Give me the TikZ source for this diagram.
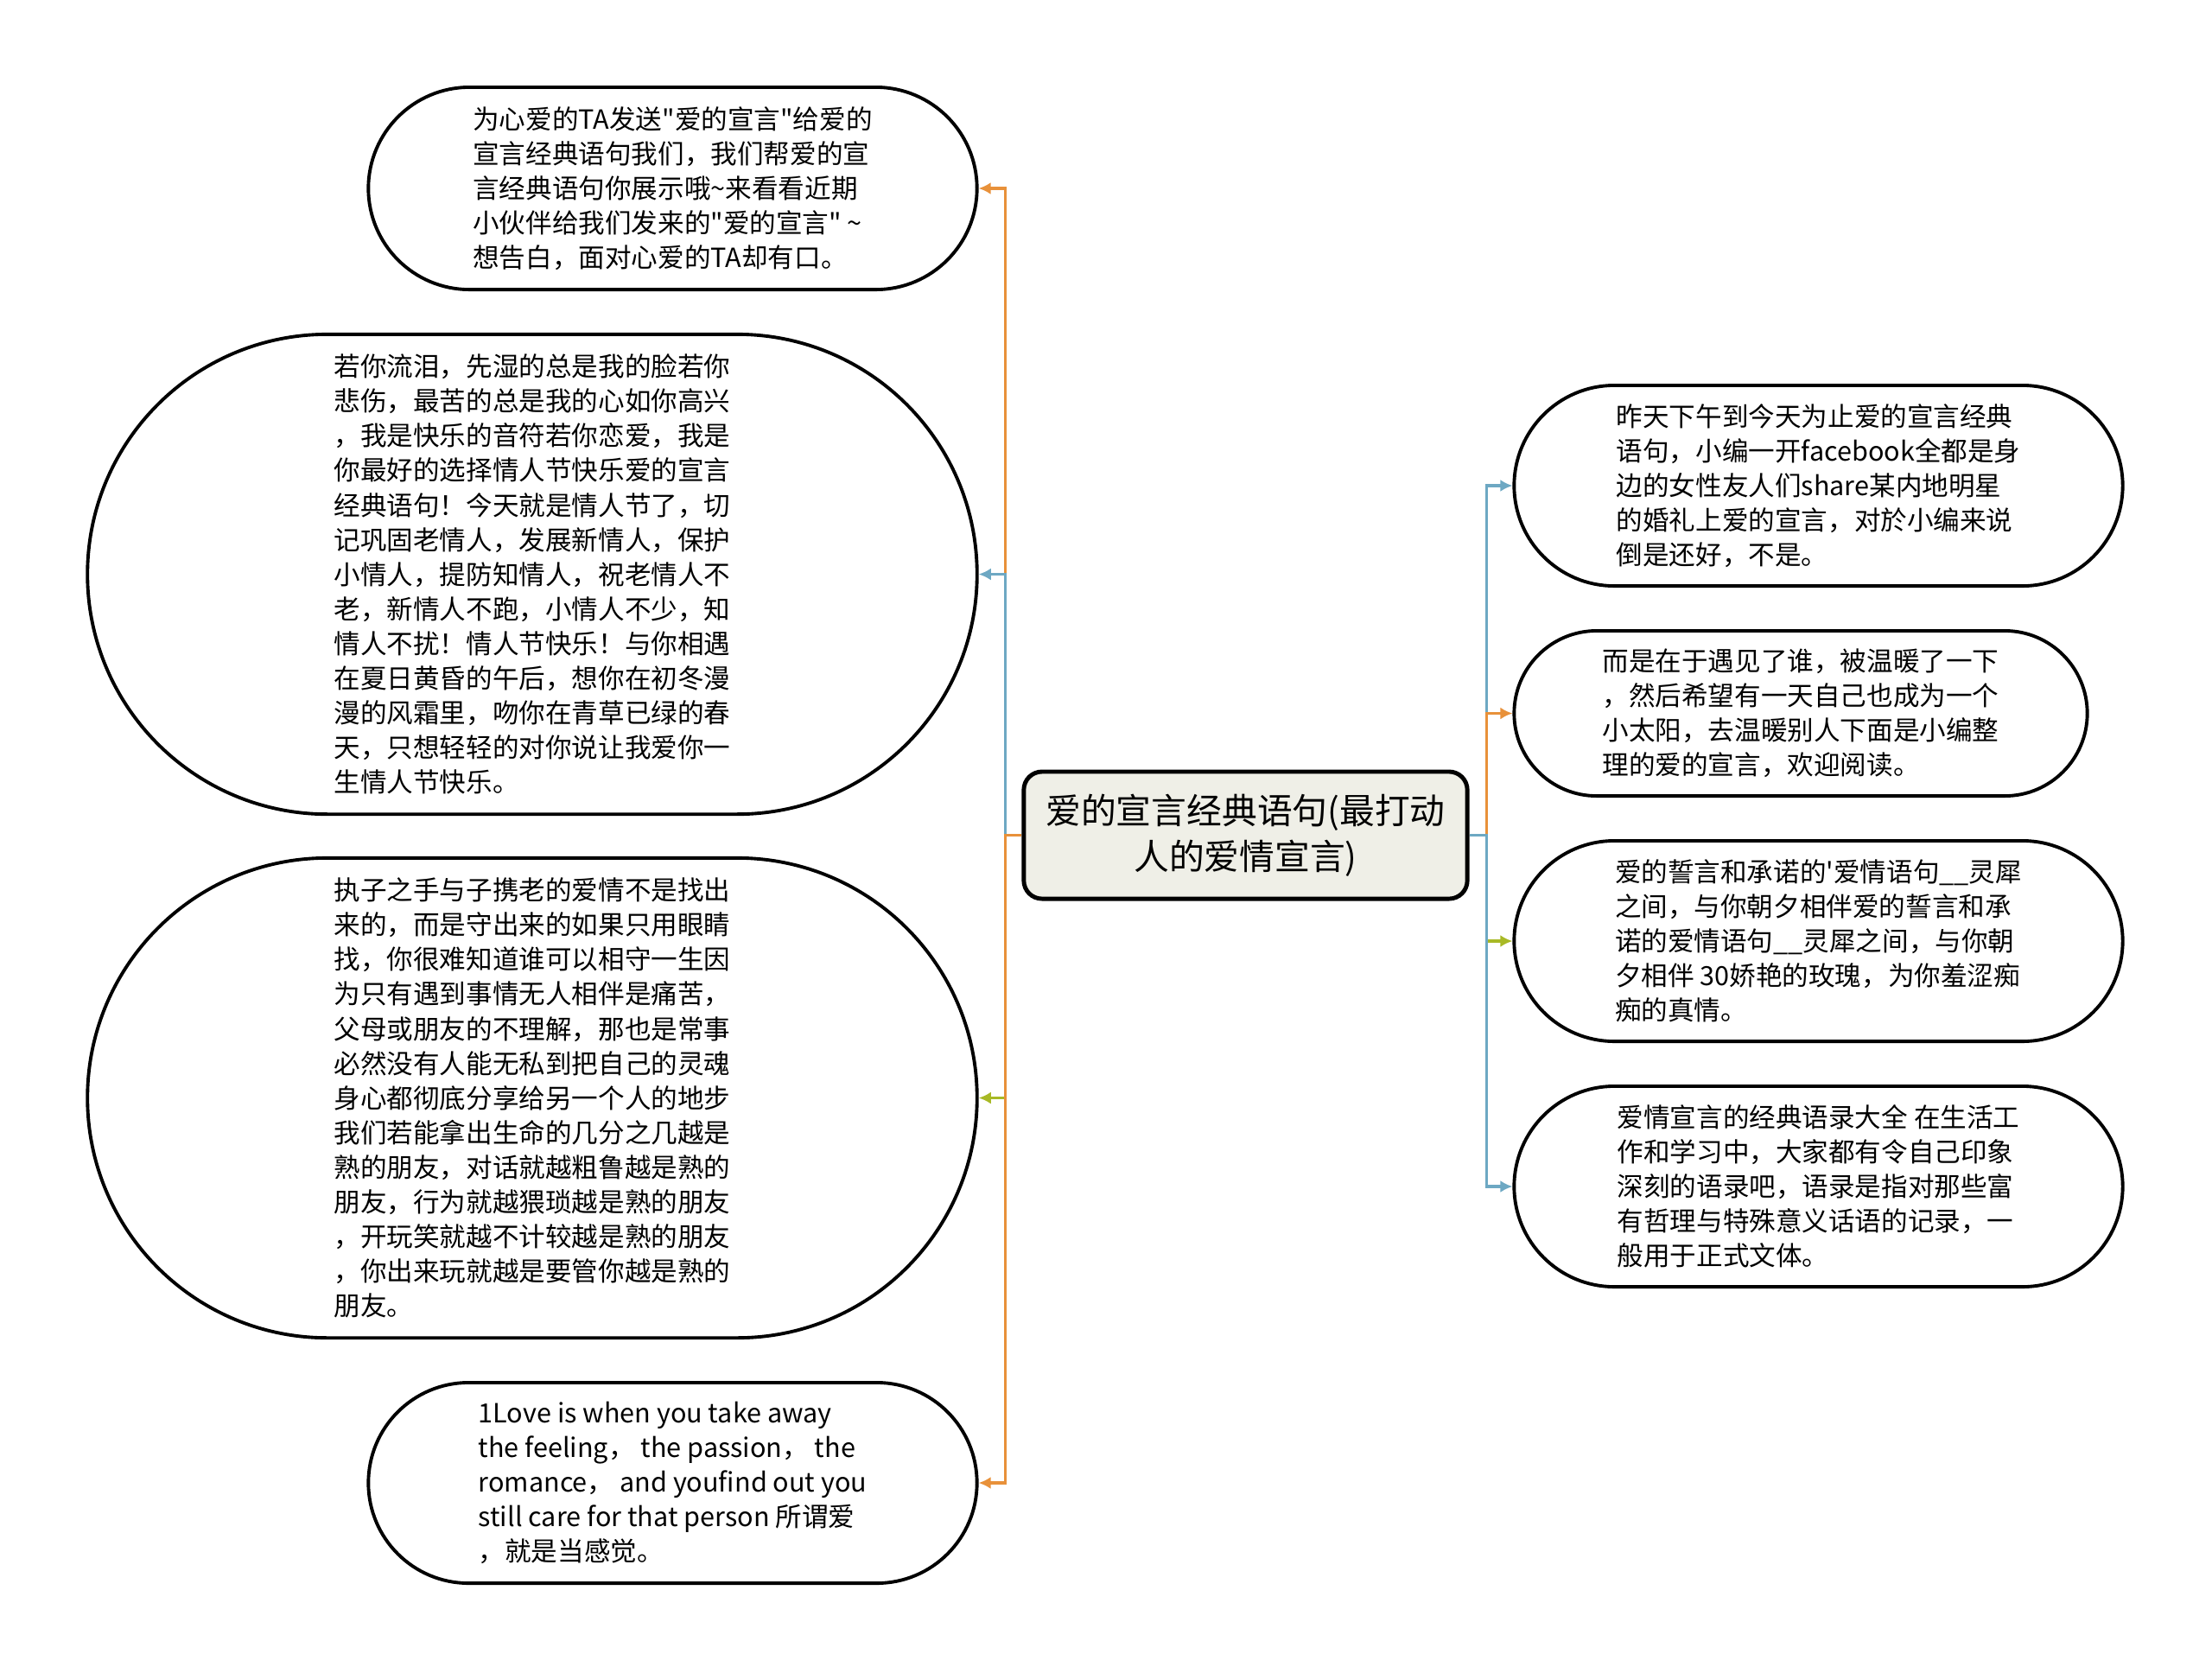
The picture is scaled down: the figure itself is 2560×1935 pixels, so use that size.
\documentclass[tikz,border=0pt]{standalone}
\usepackage{fontspec}
\newfontfamily\cjk{Noto Sans CJK SC}
\usetikzlibrary{arrows.meta,shapes.misc}
\definecolor{branchorange}{HTML}{E8913A}
\definecolor{branchblue}{HTML}{6DA8C3}
\definecolor{branchgreen}{HTML}{A8B925}
\definecolor{hubfill}{HTML}{EFEFE7}

\begin{document}
\begin{tikzpicture}[x=0.01cm,y=-0.01cm,font=\cjk\fontsize{8.7}{11.4}\selectfont,
  bubble/.style={draw,line width=1.1pt,rounded rectangle,inner sep=2pt,align=left},
  link/.style={line width=1pt,-{Latex[length=4pt,width=4pt]}}]
\useasboundingbox (0,0) rectangle (2560,1935);
\node[draw,line width=1.4pt,fill=hubfill,rounded corners=6pt,minimum width=5.13cm,minimum height=1.47cm,
  align=center,font=\cjk\fontsize{11.6}{15}\selectfont] (hub) at (1441.5,966.5)
  {爱的宣言经典语句(最打动\\人的爱情宣言)};
% left side
\node[bubble,minimum width=7.18cm,minimum height=2.34cm] (l1) at (778.5,218)
  {为心爱的TA发送"爱的宣言"给爱的\\宣言经典语句我们，我们帮爱的宣\\言经典语句你展示哦\textasciitilde 来看看近期\\小伙伴给我们发来的"爱的宣言" \textasciitilde\\想告白，面对心爱的TA却有口。};
\node[bubble,minimum width=10.43cm,minimum height=5.55cm] (l2) at (616,664.5)
  {若你流泪，先湿的总是我的脸若你\\悲伤，最苦的总是我的心如你高兴\\，我是快乐的音符若你恋爱，我是\\你最好的选择情人节快乐爱的宣言\\经典语句！今天就是情人节了，切\\记巩固老情人，发展新情人，保护\\小情人，提防知情人，祝老情人不\\老，新情人不跑，小情人不少，知\\情人不扰！情人节快乐！与你相遇\\在夏日黄昏的午后，想你在初冬漫\\漫的风霜里，吻你在青草已绿的春\\天，只想轻轻的对你说让我爱你一\\生情人节快乐。};
\node[bubble,minimum width=10.43cm,minimum height=5.55cm] (l3) at (616,1270.5)
  {执子之手与子携老的爱情不是找出\\来的，而是守出来的如果只用眼睛\\找，你很难知道谁可以相守一生因\\为只有遇到事情无人相伴是痛苦，\\父母或朋友的不理解，那也是常事\\必然没有人能无私到把自己的灵魂\\身心都彻底分享给另一个人的地步\\我们若能拿出生命的几分之几越是\\熟的朋友，对话就越粗鲁越是熟的\\朋友，行为就越猥琐越是熟的朋友\\，开玩笑就越不计较越是熟的朋友\\，你出来玩就越是要管你越是熟的\\朋友。};
\node[bubble,minimum width=7.18cm,minimum height=2.32cm] (l4) at (778.5,1716)
  {1Love is when you take away\\the feeling，  the passion，  the\\romance，  and youfind out you\\still care for that person 所谓爱\\，就是当感觉。};
% right side
\node[bubble,minimum width=7.18cm,minimum height=2.32cm] (r1) at (2104.5,562)
  {昨天下午到今天为止爱的宣言经典\\语句，小编一开facebook全都是身\\边的女性友人们share某内地明星\\的婚礼上爱的宣言，对於小编来说\\倒是还好，不是。};
\node[bubble,minimum width=6.77cm,minimum height=1.91cm] (r2) at (2084,825.5)
  {而是在于遇见了谁，被温暖了一下\\，然后希望有一天自己也成为一个\\小太阳，去温暖别人下面是小编整\\理的爱的宣言，欢迎阅读。};
\node[bubble,minimum width=7.18cm,minimum height=2.32cm] (r3) at (2104.5,1089)
  {爱的誓言和承诺的'爱情语句\_\_灵犀\\之间，与你朝夕相伴爱的誓言和承\\诺的爱情语句\_\_灵犀之间，与你朝\\夕相伴 30娇艳的玫瑰，为你羞涩痴\\痴的真情。};
\node[bubble,minimum width=7.18cm,minimum height=2.32cm] (r4) at (2104.5,1373)
  {爱情宣言的经典语录大全 在生活工\\作和学习中，大家都有令自己印象\\深刻的语录吧，语录是指对那些富\\有哲理与特殊意义话语的记录，一\\般用于正式文体。};
% connectors
\draw[link,branchorange] (hub.west) -- ++(-19,0) |- (l1.east);
\draw[link,branchblue] (hub.west) -- ++(-19,0) |- (l2.east);
\draw[link,branchgreen] (hub.west) -- ++(-19,0) |- (l3.east);
\draw[link,branchorange] (hub.west) -- ++(-19,0) |- (l4.east);
\draw[link,branchblue] (hub.east) -- ++(20,0) |- (r1.west);
\draw[link,branchorange] (hub.east) -- ++(20,0) |- (r2.west);
\draw[link,branchgreen] (hub.east) -- ++(20,0) |- (r3.west);
\draw[link,branchblue] (hub.east) -- ++(20,0) |- (r4.west);
\end{tikzpicture}
\end{document}
